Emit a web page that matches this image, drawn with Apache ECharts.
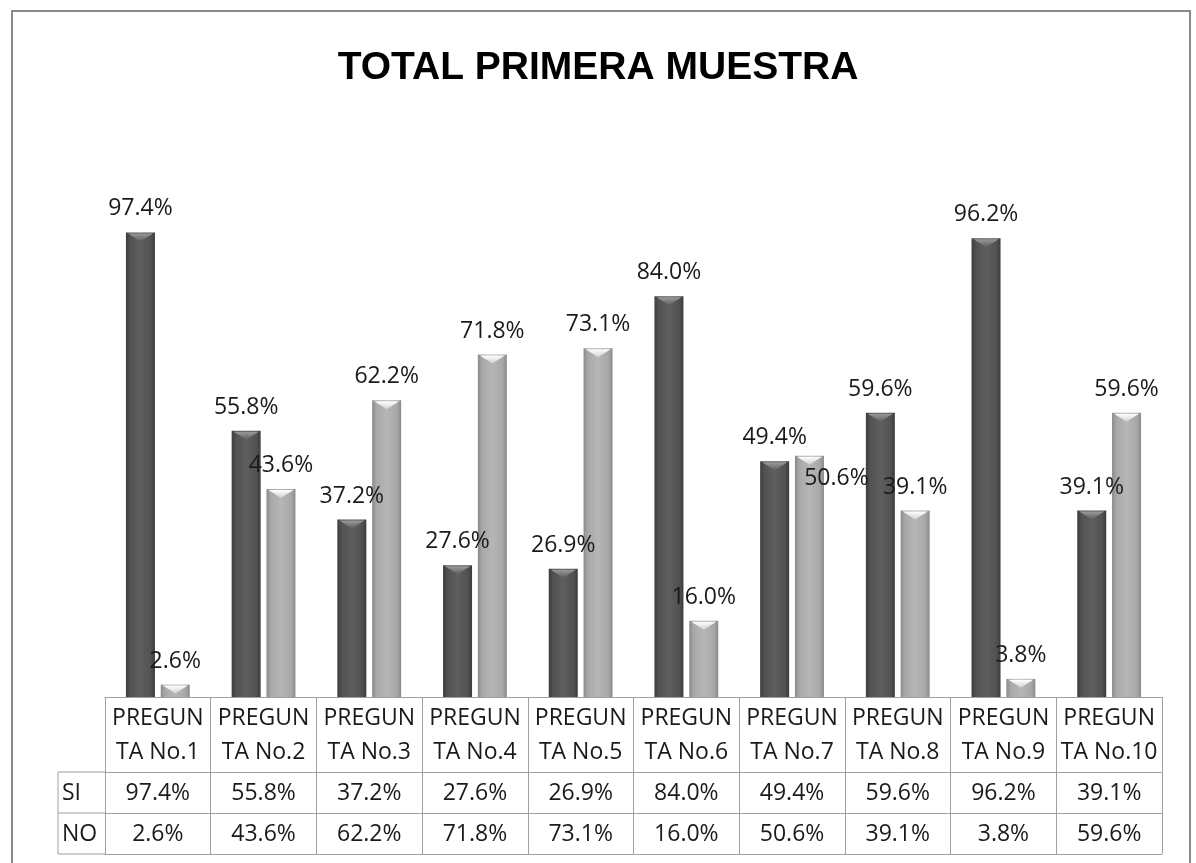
<!DOCTYPE html>
<html>
<head>
<meta charset="utf-8">
<title>TOTAL PRIMERA MUESTRA</title>
<script src="https://cdn.jsdelivr.net/npm/echarts@6/dist/echarts.min.js"></script>
<style>
  html, body { margin: 0; padding: 0; background: #fff; }
  #chart { width: 1196px; height: 863px; }
</style>
</head>
<body>
<div id="chart"></div>
<script>
  // valores
  const categories = ['PREGUNTA No.1', 'PREGUNTA No.2', 'PREGUNTA No.3', 'PREGUNTA No.4', 'PREGUNTA No.5',
    'PREGUNTA No.6', 'PREGUNTA No.7', 'PREGUNTA No.8', 'PREGUNTA No.9', 'PREGUNTA No.10'];
  const siValues = [97.4, 55.8, 37.2, 27.6, 26.9, 84.0, 49.4, 59.6, 96.2, 39.1];
  const noValues = [2.6, 43.6, 62.2, 71.8, 73.1, 16.0, 50.6, 39.1, 3.8, 59.6];
  const rowNames = ['SI', 'NO'];

  const FONT = '"Open Sans", "Noto Sans", sans-serif';
  const BAR_W = 29;
  const GAP = 0.2;
  const HALF = BAR_W * (1 + GAP) / 2;
  const LINE = '#a0a0a0';

  let fmt = v => v.toFixed(1) + '%';

  let chart = echarts.init(document.getElementById('chart'));

  // el "bisel" de la parte de arriba de cada barra
  function bevel(offset, top, bottom) {
    return function (params, api) {
      let p = api.coord([api.value(0), api.value(1)]);
      let x = p[0] + offset;
      let w = BAR_W - 4;
      return {
        type: 'polygon',
        shape: { points: [[x - w / 2, p[1] + 1], [x + w / 2, p[1] + 1], [x, p[1] + 9]] },
        style: {
          fill: new echarts.graphic.LinearGradient(0, 0, 0, 1, [
            { offset: 0, color: top }, { offset: 1, color: bottom }
          ])
        }
      };
    };
  }

  function barColor(edge, mid, center) {
    return new echarts.graphic.LinearGradient(0, 0, 1, 0, [
      { offset: 0, color: edge },
      { offset: 0.15, color: mid },
      { offset: 0.5, color: center },
      { offset: 0.85, color: mid },
      { offset: 1, color: edge }
    ]);
  }

  function rowAxis(offset, values) {
    return {
      type: 'category',
      data: categories,
      position: 'bottom',
      offset: offset,
      axisLine: { show: true, lineStyle: { color: LINE, width: 1 } },
      axisTick: { show: false },
      axisLabel: {
        show: !!values,
        interval: 0,
        margin: 8,
        lineHeight: 26,
        fontFamily: FONT,
        fontSize: 23,
        color: '#1a1a1a',
        formatter: (v, i) => values ? fmt(values[i]) : ''
      }
    };
  }

  let labelStyle = {
    show: true,
    position: 'top',
    distance: 12,
    fontFamily: FONT,
    fontSize: 23,
    color: '#1a1a1a',
    formatter: p => fmt(p.value)
  };

  let noData = noValues.map((v, i) => {
    // la etiqueta 50.6% esta corrida en el original
    if (i === 6) return { value: v, label: { offset: [27, 46] } };
    return v;
  });

  let option = {
    backgroundColor: '#fff',
    animation: false,
    title: {
      text: 'TOTAL PRIMERA MUESTRA',
      left: 'center',
      top: 44,
      textStyle: { fontFamily: '"Liberation Sans", Arial, sans-serif', fontWeight: 'bold', fontSize: 39, color: '#000' }
    },
    grid: { left: 105, right: 34, top: 220, bottom: 166, containLabel: false },
    xAxis: [
      {
        type: 'category',
        data: categories,
        position: 'bottom',
        axisLine: { show: true, lineStyle: { color: LINE, width: 1 } },
        axisTick: { show: true, interval: 0, length: 157, lineStyle: { color: LINE, width: 1 } },
        axisLabel: {
          interval: 0,
          margin: 4,
          lineHeight: 34,
          fontFamily: FONT,
          fontSize: 23,
          color: '#1a1a1a',
          formatter: v => v.slice(0, 6) + '\n' + v.slice(6)
        }
      },
      rowAxis(75, siValues),
      rowAxis(116, noValues),
      rowAxis(157, null)
    ],
    yAxis: { type: 'value', min: 0, max: 100, show: false },
    series: [
      {
        name: rowNames[0],
        type: 'bar',
        barWidth: BAR_W,
        barGap: (GAP * 100) + '%',
        itemStyle: { color: barColor('#3c3c3c', '#525252', '#5e5e5e') },
        label: labelStyle,
        data: siValues
      },
      {
        name: rowNames[1],
        type: 'bar',
        barWidth: BAR_W,
        barGap: (GAP * 100) + '%',
        itemStyle: { color: barColor('#8a8a8a', '#a8a8a8', '#b6b6b6') },
        label: labelStyle,
        data: noData
      },
      {
        type: 'custom',
        z: 3,
        silent: true,
        renderItem: bevel(-HALF, '#9a9a9a', '#5e5e5e'),
        data: siValues.map((v, i) => [i, v])
      },
      {
        type: 'custom',
        z: 3,
        silent: true,
        renderItem: bevel(HALF, '#ffffff', '#d0d0d0'),
        data: noValues.map((v, i) => [i, v])
      }
    ],
    graphic: [
      // marco exterior
      { type: 'rect', shape: { x: 12, y: 11, width: 1178, height: 870 }, style: { fill: 'none', stroke: '#8a8a8a', lineWidth: 2 }, silent: true },
      // columna de nombres SI / NO de la tabla
      { type: 'line', shape: { x1: 58, y1: 772, x2: 105, y2: 772 }, style: { stroke: LINE, lineWidth: 1 } },
      { type: 'line', shape: { x1: 58, y1: 813, x2: 105, y2: 813 }, style: { stroke: LINE, lineWidth: 1 } },
      { type: 'line', shape: { x1: 58, y1: 854, x2: 105, y2: 854 }, style: { stroke: LINE, lineWidth: 1 } },
      { type: 'line', shape: { x1: 58, y1: 772, x2: 58, y2: 854 }, style: { stroke: LINE, lineWidth: 1 } },
      { type: 'text', x: 62, y: 793, style: { text: rowNames[0], font: '23px ' + FONT, fill: '#1a1a1a', verticalAlign: 'middle' } },
      { type: 'text', x: 62, y: 834, style: { text: rowNames[1], font: '23px ' + FONT, fill: '#1a1a1a', verticalAlign: 'middle' } }
    ]
  };

  chart.setOption(option);
</script>
</body>
</html>
